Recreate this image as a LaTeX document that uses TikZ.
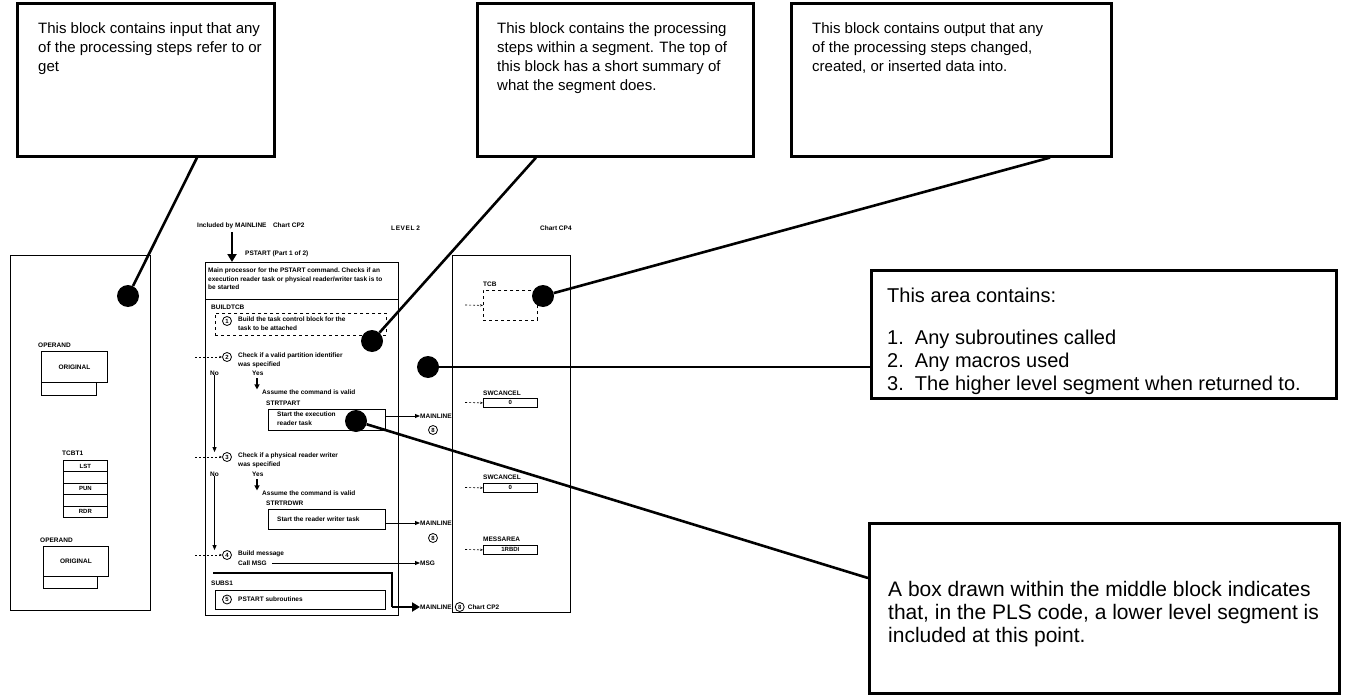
\documentclass[tikz,border=0pt]{standalone}
\usepackage{fontspec}
\setmainfont{Liberation Sans}
\usetikzlibrary{arrows.meta,positioning,calc}

\begin{document}
\begin{tikzpicture}[x=1pt, y=-1pt,
    callout/.style={draw, line width=2.6pt, anchor=north west, inner sep=0pt},
    note/.style={anchor=north west, inner sep=0pt, align=left, font=\fontsize{15}{19}\selectfont},
    bignote/.style={anchor=north west, inner sep=0pt, align=left, font=\fontsize{20}{23}\selectfont},
    leader/.style={line width=2.6pt},
    dot/.style={circle, fill, inner sep=0pt, minimum size=22pt},
    block/.style={draw, line width=0.9pt, anchor=north west, inner sep=0pt},
    chart/.style={inner sep=0pt, anchor=west, align=left, font=\fontsize{6.5}{8.5}\selectfont\bfseries},
    field/.style={draw, line width=0.8pt, inner sep=0pt, anchor=north west, font=\fontsize{6}{7}\selectfont\bfseries},
    num/.style={draw, circle, line width=0.8pt, inner sep=0pt, minimum size=9pt, font=\fontsize{6}{6}\selectfont\bfseries},
    flow/.style={line width=0.9pt, -{Triangle[length=5pt,width=4pt]}},
    yesarrow/.style={line width=2pt, -{Triangle[length=5pt,width=5pt]}},
    exitarrow/.style={line width=2.8pt, -{Triangle[length=8pt,width=9pt]}},
    entry/.style={line width=0.6pt, dash pattern=on 2pt off 2pt, -{Stealth[length=3pt]}}
]
\useasboundingbox (0,0) rectangle (1367,695);

% Callout boxes
\node[callout, minimum width=257pt, minimum height=153pt] (c1) at (16,2) {};
\node[note] (t1) at (38,22) {This block contains input that any\\of the processing steps refer to or\\get};
\node[callout, minimum width=276pt, minimum height=153pt] (c2) at (476,2) {};
\node[note] (t2) at (497,22) {This block contains the processing\\steps within a segment. The top of\\this block has a short summary of\\what the segment does.};
\node[callout, minimum width=320pt, minimum height=153pt] (c3) at (790,2) {};
\node[note] (t3) at (812,22) {This block contains output that any\\of the processing steps changed,\\created, or inserted data into.};
\node[callout, minimum width=465pt, minimum height=128pt] (c4) at (870,269) {};
\node[bignote] (t4a) at (887,288) {This area contains:};
\node[bignote] (t4b) at (887,330) {1.\ \ Any subroutines called\\2.\ \ Any macros used\\3.\ \ The higher level segment when returned to.};
\node[callout, minimum width=470pt, minimum height=170pt] (c5) at (868,522) {};
\node[bignote, font=\fontsize{21}{23}\selectfont] (t5) at (888,581) {A box drawn within the middle block indicates\\that, in the PLS code, a lower level segment is\\included at this point.};

% The three blocks
\node[block, minimum width=140pt, minimum height=355pt] (lblk) at (10,255) {};
\node[block, minimum width=193pt, minimum height=353pt] (mblk) at (205,262) {};
\node[block, minimum width=118pt, minimum height=357pt] (rblk) at (452,255) {};

% Input block
\node[chart] (opl1) at (38,345) {OPERAND};
\node[field, minimum width=66pt, minimum height=31pt] (op1) at (41,351) {};
\node[chart, anchor=center] (ori1) at (op1.center) {ORIGINAL};
\draw[line width=0.8pt] (op1.south west) -- ++(0,13) -- ++(55,0) -- ++(0,-13);
\node[chart] (tcbtl) at (62,453) {TCBT1};
\foreach \lab [count=\i] in {LST,{},PUN,{},RDR}
    \node[field, minimum width=44pt, minimum height=11.4pt] (row\i) at (63,{460+(\i-1)*11.4}) {\lab};
\node[chart] (opl2) at (40,540) {OPERAND};
\node[field, minimum width=65pt, minimum height=30pt] (op2) at (43,546) {};
\node[chart, anchor=center] (ori2) at (op2.center) {ORIGINAL};
\draw[line width=0.8pt] (op2.south west) -- ++(0,12) -- ++(54,0) -- ++(0,-12);

% Processing block header
\node[chart] (incl) at (197,226) {Included by MAINLINE\quad Chart CP2};
\node[chart] (lvl) at (391,228) {L\kern.6pt E\kern.6pt V\kern.6pt E\kern.6pt L\ 2};
\node[chart] (cp4) at (540,228) {Chart CP4};
\coordinate (arrtop) at (232,232);
\draw[exitarrow] (arrtop) -- (arrtop |- mblk.north);
\node[chart] (pst) at (245,254) {PSTART (Part 1 of 2)};
\node[chart, anchor=north west] (summ) at (208,268) {Main processor for the PSTART command.\ Checks if an\\execution reader task or physical reader/writer task is to\\be started};
\draw[line width=0.9pt] (205,299) -- (398,299);

% Step 1
\node[chart] (bt) at (211,307) {BUILDTCB};
\node[field, dashed, minimum width=171pt, minimum height=22pt] (btbox) at (215,313) {};
\node[num] (n1) at (227,321) {1};
\node[chart, anchor=north west] (s1) at (238,317) {Build the task control block for the\\task to be attached};

% Step 2
\node[num] (n2) at (227,357) {2};
\node[chart, anchor=north west] (s2) at (238,353) {Check if a valid partition identifier\\was specified};
\draw[entry] (195,357) -- (n2);
\node[chart] (no2) at (210,373) {No};
\node[chart] (yes2) at (252,373) {Yes};
\node[chart] (as2) at (262,392) {Assume the command is valid};
\coordinate (y2) at (257,378);
\draw[yesarrow] (y2) -- (y2 |- as2.north);
\node[chart] (spl) at (266,403) {STRTPART};
\node[field, minimum width=117pt, minimum height=21pt] (spbox) at (268,409) {};
\node[chart, anchor=north west] (spt) at (277,412) {Start the execution\\reader task};
\node[chart] (ml1) at (420,416) {MAINLINE};
\node[num] (e1) at (433,430) {8};
\draw[flow] (spbox.east |- ml1) -- (ml1.west);

% Step 3
\node[num] (n3) at (227,457) {3};
\node[chart, anchor=north west] (s3) at (238,453) {Check if a physical reader writer\\was specified};
\draw[entry] (195,457) -- (n3);
\draw[flow] (no2.south) -- (no2.south |- n3.north);
\node[chart] (no3) at (210,474) {No};
\node[chart] (yes3) at (252,474) {Yes};
\node[chart] (as3) at (262,493) {Assume the command is valid};
\coordinate (y3) at (257,479);
\draw[yesarrow] (y3) -- (y3 |- as3.north);
\node[chart] (srl) at (266,503) {STRTRDWR};
\node[field, minimum width=117pt, minimum height=20pt] (srbox) at (268,509) {};
\node[chart] (srt) at (277,519) {Start the reader writer task};
\node[chart] (ml2) at (420,523) {MAINLINE};
\node[num] (e2) at (433,538) {8};
\draw[flow] (srbox.east |- ml2) -- (ml2.west);

% Step 4
\node[num] (n4) at (227,555) {4};
\node[chart] (s4) at (238,554) {Build message};
\node[chart] (call) at (238,563) {Call MSG};
\draw[entry] (195,555) -- (n4);
\draw[flow] (no3.south) -- (no3.south |- n4.north);
\node[chart] (msg) at (420,563) {MSG};
\draw[flow] ([xshift=5pt]call.east) -- (msg.west);

% Lower level segment
\draw[line width=1.4pt] (213,573) -- (392,573) -- (392,607);
\coordinate (lcorner) at (392,607);
\node[chart] (sb) at (211,583) {SUBS1};
\node[field, minimum width=170pt, minimum height=19pt] (sbbox) at (215,590) {};
\node[num] (n5) at (227,599.5) {5};
\node[chart] (s5) at (238,599.5) {PSTART subroutines};
\node[chart] (ml3) at (420,607) {MAINLINE};
\node[num, right=3pt of ml3] (e3) {8};
\node[chart, right=3pt of e3] (cp2) {Chart CP2};
\draw[exitarrow] (lcorner) -- (ml3.west);

% Output block
\node[chart] (tcbl) at (483,284) {TCB};
\node[field, dashed, minimum width=54pt, minimum height=30pt] (tcb) at (483,290) {};
\draw[entry] (465,305) -- (tcb.west);
\node[chart] (sw1l) at (483,393) {SWCANCEL};
\node[field, minimum width=54pt, minimum height=9pt] (sw1) at (483,398) {0};
\draw[entry] (465,402.5) -- (sw1.west);
\node[chart] (sw2l) at (483,477) {SWCANCEL};
\node[field, minimum width=54pt, minimum height=9pt] (sw2) at (483,483) {0};
\draw[entry] (465,487.5) -- (sw2.west);
\node[chart] (msl) at (483,539) {MESSAREA};
\node[field, minimum width=54pt, minimum height=9pt] (ms) at (483,545) {1RBDI};
\draw[entry] (465,549.5) -- (ms.west);

% Dots and leader lines
\node[dot] (d1) at (128,296) {};
\node[dot] (d2) at (372,341) {};
\node[dot] (d3) at (543,296) {};
\node[dot] (d4) at (428,367) {};
\node[dot] (d5) at (356,421) {};
\draw[leader] (c1.south west) ++(181,0) -- (d1);
\draw[leader] (c2.south west) ++(60,0) -- (d2);
\draw[leader] (c3.south west) ++(260,0) -- (d3);
\draw[leader] (d4) -- (d4 -| c4.west);
\draw[leader] (d5) -- ($(c5.north west)+(0,56)$);

\end{tikzpicture}
\end{document}
